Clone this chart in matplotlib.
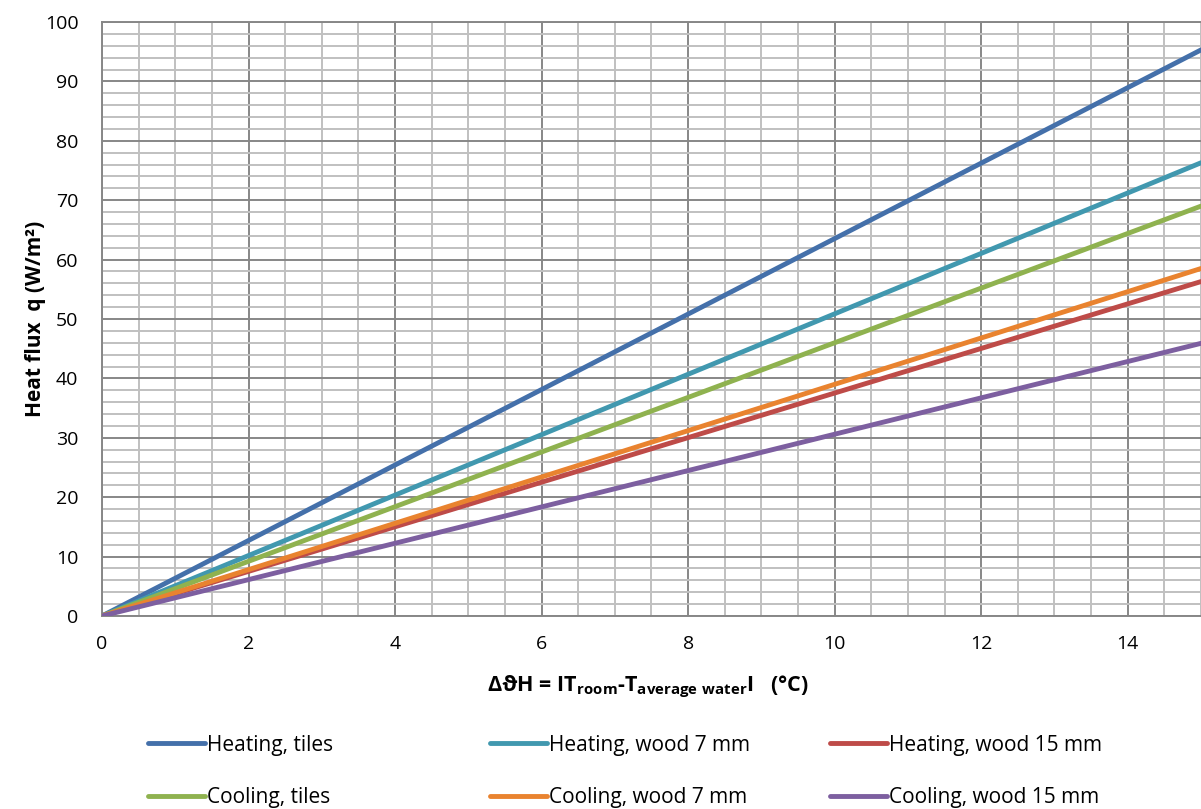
import numpy as np
import matplotlib.pyplot as plt
from matplotlib.ticker import MultipleLocator

plt.rcParams['font.family'] = ['Open Sans', 'DejaVu Sans']
plt.rcParams['mathtext.fontset'] = 'custom'
plt.rcParams['mathtext.rm'] = 'Open Sans'
plt.rcParams['mathtext.bf'] = 'Open Sans:bold'

# temperature difference (°C) and heat flux (W/m²) at the ends of each line
dT = [0, 15]
heating_tiles = [0, 95.3]
heating_wood7 = [0, 76.3]
heating_wood15 = [0, 56.3]
cooling_tiles = [0, 69.0]
cooling_wood7 = [0, 58.5]
cooling_wood15 = [0, 45.9]

series = [
    ('Heating, tiles', heating_tiles, '#4470AA'),
    ('Heating, wood 7 mm', heating_wood7, '#4198AF'),
    ('Heating, wood 15 mm', heating_wood15, '#BE4B48'),
    ('Cooling, tiles', cooling_tiles, '#8FB24F'),
    ('Cooling, wood 7 mm', cooling_wood7, '#E9832F'),
    ('Cooling, wood 15 mm', cooling_wood15, '#7D5FA0'),
]

fig = plt.figure(figsize=(12.01, 8.09), dpi=100)
ax = fig.add_axes([0.0849, 0.2386, 0.9151, 0.7342])

handles = {}
for name, vals, col in series:
    h, = ax.plot(dT, vals, color=col, lw=3.5, solid_capstyle='round', label=name, zorder=3)
    handles[name] = h

ax.set_xlim(0, 15)
ax.set_ylim(0, 100)
ax.xaxis.set_major_locator(MultipleLocator(2))
ax.xaxis.set_minor_locator(MultipleLocator(0.5))
ax.yaxis.set_major_locator(MultipleLocator(10))
ax.yaxis.set_minor_locator(MultipleLocator(2))
ax.grid(which='minor', color='#C0C0C0', lw=1.4, zorder=0)
ax.grid(which='major', color='#878787', lw=1.4, zorder=1)
ax.set_axisbelow(True)
for s in ax.spines.values():
    s.set_color('#878787')
    s.set_linewidth(1.4)
ax.spines['right'].set_visible(False)
ax.tick_params(which='both', length=0, labelsize=14, colors='black')
ax.tick_params(axis='x', pad=14)
ax.tick_params(axis='y', pad=17)

ax.set_ylabel('Heat flux  q (W/m²)', fontsize=15, fontweight='bold')
ax.yaxis.set_label_coords(-0.051, 0.5)
ax.set_xlabel(r'ΔϑH = IT$_{\mathbf{room}}$-T$_{\mathbf{average\ water}}$I   (°C)',
              fontsize=15.5, fontweight='bold')
ax.xaxis.set_label_coords(0.497, -0.098)

cols = [['Heating, tiles', 'Cooling, tiles'],
        ['Heating, wood 7 mm', 'Cooling, wood 7 mm'],
        ['Heating, wood 15 mm', 'Cooling, wood 15 mm']]
xs = [0.1232, 0.408, 0.691]
for x0, names in zip(xs, cols):
    fig.legend([handles[n] for n in names], names, loc='upper left',
               bbox_to_anchor=(x0, 0.092), frameon=False, fontsize=15,
               handlelength=2.75, handletextpad=0.1, labelspacing=1.5,
               borderaxespad=0, borderpad=0)

fig.savefig('out.png', dpi=100)
